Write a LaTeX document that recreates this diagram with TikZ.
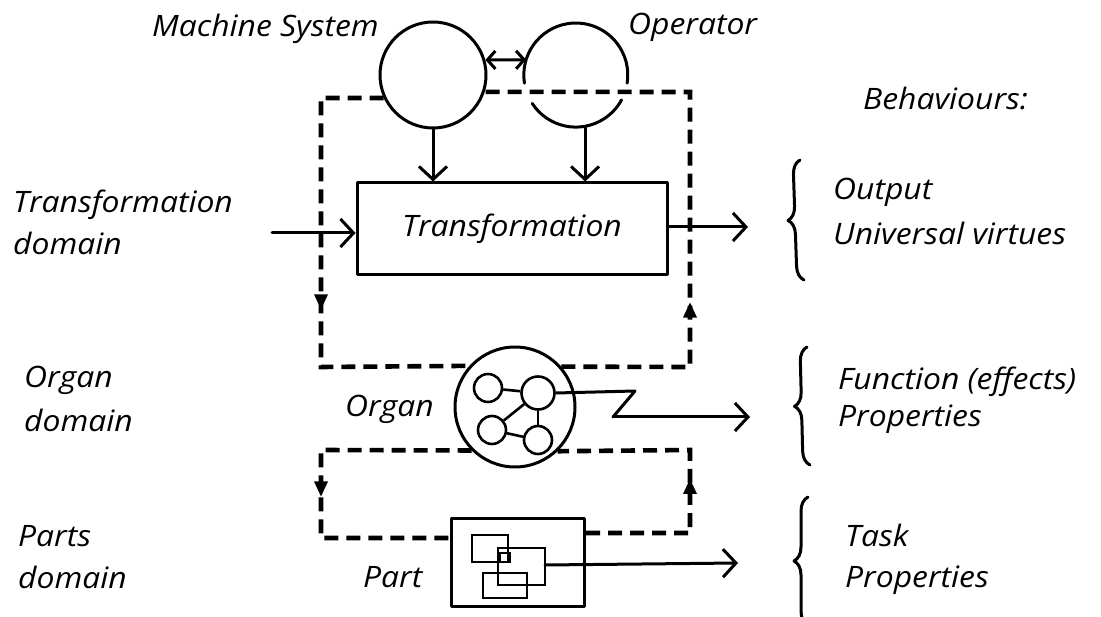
\documentclass[tikz,border=0pt]{standalone}
\usepackage{fontspec}
\setmainfont{Open Sans}[FakeStretch=1.08]
\usetikzlibrary{arrows.meta,decorations.pathreplacing,decorations.markings}
\begin{document}
\begin{tikzpicture}[x=1pt,y=-1pt,
  lbl/.style={anchor=base west,inner sep=0pt,font=\fontsize{29.5}{35}\selectfont\itshape},
  ln/.style={line width=3pt,line cap=round,line join=round},
  thin/.style={line width=2.6pt},
  arr/.style={ln,-{Straight Barb[length=13pt,width=28pt]}},
  darr/.style={ln,{Straight Barb[length=8pt,width=18pt]}-{Straight Barb[length=8pt,width=18pt]}},
  loop/.style={line width=4.6pt,dash pattern=on 14pt off 8pt,line join=miter},
  dmark/.style={postaction={decorate},decoration={markings,
     mark=at position #1 with {\fill[solid] (-7pt,-7pt) -- (8pt,0pt) -- (-7pt,7pt) -- cycle;}}},
  circ/.style={circle,draw,ln,inner sep=0pt},
  small/.style={circle,draw,thin,inner sep=0pt},
  brc/.style={ln,decorate,decoration={brace,amplitude=14pt,raise=0pt}}
]
\useasboundingbox (0,0) rectangle (1101,617);

% main nodes
\node[circ,minimum size=106pt] (ms) at (433,75) {};
\node[circle,minimum size=104pt,inner sep=0pt] (op) at (576,75) {};
\draw[ln] (op.189) arc[start angle=189,end angle=-9,radius=52pt];
\draw[ln] (op.213) arc[start angle=213,end angle=331.5,radius=52pt];
\node[draw,ln,rectangle,minimum width=310pt,minimum height=92pt,inner sep=0pt,
      font=\fontsize{29.5}{35}\selectfont\itshape] (tr) at (512,229) {Transformation};
\node[circ,minimum size=120pt] (org) at (515,407) {};
\node[draw,ln,rectangle,minimum width=133pt,minimum height=88pt,inner sep=0pt] (part) at (518,562) {};

% organ inner network
\node[small,minimum size=28pt] (oa) at (488,388) {};
\node[small,minimum size=33pt] (ob) at (538,393) {};
\node[small,minimum size=28pt] (oc) at (492,430) {};
\node[small,minimum size=28pt] (od) at (538,440) {};
\draw[thin] (oa) -- (ob);
\draw[thin] (ob) -- (oc);
\draw[thin] (ob) -- (od);
\draw[thin] (oc) -- (od);

% part inner squares
\draw[thin] (472,535) rectangle (508,562);
\draw[thin] (498,548) rectangle (545,585);
\draw[thin] (483,573) rectangle (527,598);
\draw[thin] (500,553) rectangle (510,562);
\coordinate (pq) at (545,565);

% free ends
\coordinate (inS) at (272,233);
\coordinate (outT) at (748,227);
\coordinate (outO) at (750,417);
\coordinate (outP) at (738,563);

% connectors
\draw[darr] (ms.16) -- (op.163);
\draw[arr] (ms.south) -- (ms.south |- tr.north);
\draw[arr] (op.-80) -- (op.-80 |- tr.north);
\draw[arr] (inS) -- (inS -| tr.west);
\draw[ln] ([yshift=2pt]tr.east) -- ++(20,0) coordinate (trE);
\draw[arr] (trE) -- (outT);
\draw[ln] (ob.east) -- (635,391) -- (613,417) coordinate (zz);
\draw[arr] (zz) -- (outO);
\draw[arr] (pq) -- (outP);

% dashed feedback loops
\draw[loop,dmark=266pt] (ms.205.7) -- (321,98) -- (321,367) -- (org.138.2);
\draw[loop,dmark=185pt] (org.41.8) -- (690,367) -- (690,92) -- (ms.-18.7);
\draw[loop,dmark=189pt] (org.225.8) -- (321,450) -- (321,538) -- ([yshift=24pt]part.west);
\draw[loop,dmark=150pt] ([yshift=29pt]part.east) -- (690,533) -- (690,450) -- (org.314.2);

% braces
\draw[brc] (804,280) -- (800,160);
\draw[brc] (810,465) -- (807,347);
\draw[brc] (808,625) -- (808,497);

% labels
\node[lbl] (tms) at (152,37) {Machine System};
\node[lbl] (top) at (628,35) {Operator};
\node[lbl] (tbeh) at (863,110) {Behaviours:};
\node[lbl] (ltr1) at (13,213) {Transformation};
\node[lbl] (ltr2) at (13,255) {domain};
\node[lbl] (lor1) at (24,388) {Organ};
\node[lbl] (lor2) at (24,432) {domain};
\node[lbl] (lpa1) at (18,547) {Parts};
\node[lbl] (lpa2) at (18,588) {domain};
\node[lbl] (torg) at (345,417) {Organ};
\node[lbl] (tpart) at (363,587) {Part};
\node[lbl] (rb1) at (833,200) {Output};
\node[lbl] (rb2) at (833,245) {Universal virtues};
\node[lbl] (rf1) at (838,390) {Function (effects)};
\node[lbl] (rf2) at (838,427) {Properties};
\node[lbl] (rt1) at (845,547) {Task};
\node[lbl] (rt2) at (845,587) {Properties};
\end{tikzpicture}
\end{document}
